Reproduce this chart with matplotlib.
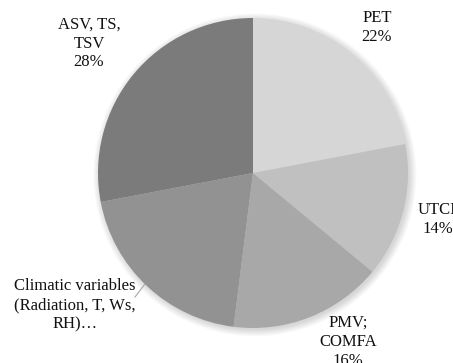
import matplotlib
matplotlib.use("Agg")
import matplotlib.pyplot as plt
from matplotlib.patches import Circle

categories = ["PET", "UTCI", "PMV;\nCOMFA", "Climatic variables\n(Radiation, T, Ws,\nRH)\u2026", "ASV, TS,\nTSV"]
shares = [22, 14, 16, 20, 28]
show_share = [True, True, True, False, True]
colors = ["#d6d6d6", "#c0c0c0", "#a8a8a8", "#929292", "#7b7b7b"]

# label anchor points (data units, pie radius = 1)
label_xy = [(0.80, 0.94), (1.19, -0.30), (0.613, -1.09), (-1.148, -0.852), (-1.058, 0.835)]

W, H = 453, 363
cx, cy, R = 253, 173, 155  # pie centre / radius in pixels

fig = plt.figure(figsize=(W / 100, H / 100), dpi=100)
ax = fig.add_axes([0, 0, 1, 1])
ax.axis("off")

# soft shadow around the pie
for k in range(8):
    ax.add_patch(Circle((0.012, -0.012), 1.0 + 0.006 * k, color="black",
                        alpha=0.018, lw=0, zorder=0))

wedges, _ = ax.pie(shares, colors=colors, startangle=90, counterclock=False,
                   radius=1.0, wedgeprops=dict(linewidth=0), frame=False)
for w in wedges:
    w.set_zorder(2)
ax.set_xlim(-cx / R, (W - cx) / R)
ax.set_ylim(-(H - cy) / R, cy / R)
ax.set_aspect("auto")

font = dict(family="Liberation Serif", size=12, color="#111111")
for name, share, show, (x, y) in zip(categories, shares, show_share, label_xy):
    text = f"{name}\n{share}%" if show else name
    ax.text(x, y, text, ha="center", va="center",
            linespacing=1.24, zorder=3, **font)

# leader line for the climatic-variables label
ax.plot([-0.761, -0.697], [-0.80, -0.716], color="#a6a6a6", lw=0.8, zorder=3)

fig.savefig("out.png", dpi=100)
